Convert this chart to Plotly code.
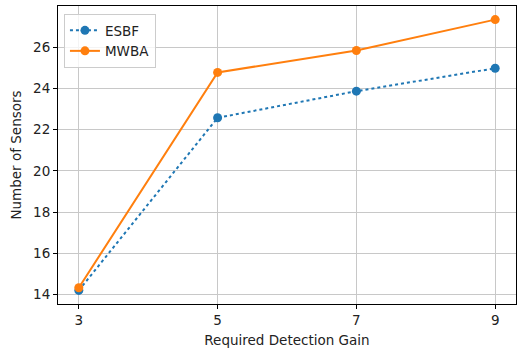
import plotly.graph_objects as go

gains = [3, 5, 7, 9]
esbf = [14.21, 22.58, 23.87, 24.98]
mwba = [14.34, 24.78, 25.84, 27.34]
x_ticks = [3, 5, 7, 9]
y_ticks = [14, 16, 18, 20, 22, 24, 26]

FS = 13.5
fig = go.Figure()
fig.add_trace(go.Scatter(x=gains, y=esbf, name="ESBF", mode="lines+markers",
                         line=dict(color="#1f77b4", width=2, dash="dot"),
                         marker=dict(color="#1f77b4", size=9)))
fig.add_trace(go.Scatter(x=gains, y=mwba, name="MWBA", mode="lines+markers",
                         line=dict(color="#ff7f0e", width=2),
                         marker=dict(color="#ff7f0e", size=9)))

axis_common = dict(showline=True, linecolor="black", linewidth=1, mirror=True,
                   ticks="outside", ticklen=4, tickcolor="black",
                   showgrid=True, gridcolor="#c8c8c8", gridwidth=1, zeroline=False,
                   automargin=False,
                   tickfont=dict(family="DejaVu Sans", size=FS, color="#222"))

fig.update_xaxes(range=[2.7, 9.3], tickvals=x_ticks,
                 title=dict(text="Required Detection Gain", standoff=8,
                            font=dict(family="DejaVu Sans", size=FS, color="#222")),
                 **axis_common)
fig.update_yaxes(range=[13.55, 28.0], tickvals=y_ticks,
                 title=dict(text="Number of Sensors", standoff=8,
                            font=dict(family="DejaVu Sans", size=FS, color="#222")),
                 **axis_common)

fig.update_layout(width=517, height=351,
                  margin=dict(l=58, r=1, t=6, b=47),
                  plot_bgcolor="white", paper_bgcolor="white",
                  font=dict(family="DejaVu Sans", size=FS, color="#222"),
                  legend=dict(x=0.013, y=0.973, xanchor="left", yanchor="top",
                              bgcolor="rgba(255,255,255,0.8)", bordercolor="#cccccc",
                              borderwidth=1, font=dict(size=FS),
                              tracegroupgap=0))

fig.write_html("out.html", config={"displayModeBar": False},
               post_script="document.body.style.margin='0';document.body.style.overflow='hidden';")
